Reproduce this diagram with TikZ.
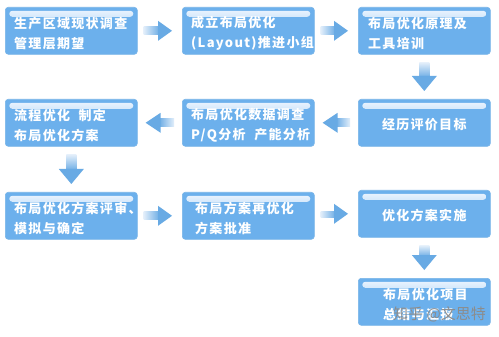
\documentclass[tikz,border=0pt]{standalone}
\usepackage{fontspec}
\newfontfamily\cjk{Noto Sans CJK SC}[LetterSpace=10]
\newfontfamily\cjkwm{Noto Sans CJK SC}
\usetikzlibrary{calc}
\definecolor{boxblue}{RGB}{108,176,236}
\definecolor{edgeblue}{RGB}{120,180,232}
\definecolor{hiwhite}{RGB}{240,247,255}
\definecolor{arblue}{RGB}{104,170,228}
\definecolor{arlight}{RGB}{226,238,250}
\newcommand\blkright[2]{%
  \shade[left color=arlight, right color=arblue] ($(#1.east)+(6,-4)$) rectangle ($(#2.west)+(-22,4)$);
  \fill[arblue] ($(#2.west)+(-24,-10)$) -- ($(#2.west)+(-10,0)$) -- ($(#2.west)+(-24,10)$) -- cycle;}
\newcommand\blkleft[2]{%
  \shade[left color=arblue, right color=arlight] ($(#1.west)+(-8,-4)$) rectangle ($(#2.east)+(21,4)$);
  \fill[arblue] ($(#2.east)+(23,-10)$) -- ($(#2.east)+(8,0)$) -- ($(#2.east)+(23,10)$) -- cycle;}
\newcommand\blkdown[2]{%
  \shade[top color=arlight, bottom color=arblue] ($(#1.south)+(-5,8)$) rectangle ($(#1.south |- #2.north)+(5,-21)$);
  \fill[arblue] ($(#1.south |- #2.north)+(-12.5,-23)$) -- ($(#1.south |- #2.north)+(0,-8)$) -- ($(#1.south |- #2.north)+(12.5,-23)$) -- cycle;}
\tikzset{
  box/.style={draw=edgeblue, line width=0.6pt, fill=boxblue, rounded corners=3pt,
    minimum width=132pt, minimum height=47pt, anchor=north west, inner sep=0pt,
    path picture={\shade[top color=hiwhite, bottom color=boxblue]
      ($(path picture bounding box.north west)+(4,3.5)$) rectangle ($(path picture bounding box.north east)+(-4,9.5)$);}},
  lbl/.style={text=white, font=\cjk\bfseries\fontsize{13}{20}\selectfont, align=left, anchor=west, inner sep=0pt},
  clbl/.style={text=white, font=\cjk\bfseries\fontsize{13}{20}\selectfont, align=center, anchor=center, inner sep=0pt}
}
\begin{document}
\begin{tikzpicture}[x=1pt,y=-1pt]
\useasboundingbox (0,0) rectangle (499,337);
\fill[white] (0,0) rectangle (499,337);
% boxes
\node[box] (b1) at (5,7) {};
\node[box] (b2) at (182,7) {};
\node[box] (b3) at (358,7) {};
\node[box] (b4) at (358,99) {};
\node[box] (b5) at (182,99) {};
\node[box] (b6) at (5,99) {};
\node[box] (b7) at (5,192) {};
\node[box] (b8) at (182,192) {};
\node[box] (b9) at (358,190) {};
\node[box] (b10) at (358,278) {};
% labels
\node[lbl] (t1) at ($(b1.west)+(9,2.5)$) {生产区域现状调查\\管理层期望};
\node[lbl] (t2) at ($(b2.west)+(9,2.5)$) {成立布局优化\\(Layout)推进小组};
\node[lbl] (t3) at ($(b3.west)+(10,2.5)$) {布局优化原理及\\工具培训};
\node[clbl] (t4) at ($(b4.center)+(0,2)$) {经历评价目标};
\node[lbl] (t5) at ($(b5.west)+(9,2.5)$) {布局优化数据调查\\P/Q分析\ \ 产能分析};
\node[lbl] (t6) at ($(b6.west)+(9,2.5)$) {流程优化\ \ 制定\\布局优化方案};
\node[lbl] (t7) at ($(b7.west)+(9,2.5)$) {布局优化方案评审、\\模拟与确定};
\node[lbl] (t8) at ($(b8.west)+(13,2.5)$) {布局方案再优化\\方案批准};
\node[clbl] (t9) at ($(b9.center)+(0,1.5)$) {优化方案实施};
\node[lbl] (t10) at ($(b10.west)+(25,2.5)$) {布局优化项目\\总结与汇报};
% arrows
\blkright{b1}{b2}
\blkright{b2}{b3}
\blkdown{b3}{b4}
\blkleft{b4}{b5}
\blkleft{b5}{b6}
\blkdown{b6}{b7}
\blkright{b7}{b8}
\blkright{b8}{b9}
\blkdown{b9}{b10}
% watermark
\node[font=\cjkwm\fontsize{15}{15}\selectfont, text=white!55!black, anchor=west, inner sep=0pt] (wm) at (393,314) {知乎 @文思特};
\end{tikzpicture}
\end{document}
